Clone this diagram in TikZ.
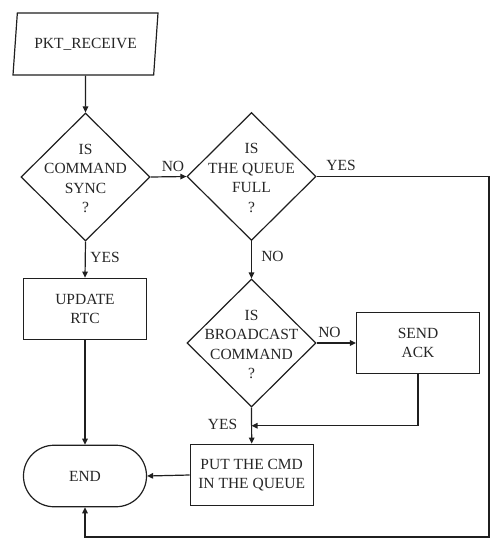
\documentclass[tikz,border=0pt]{standalone}
\usepackage{fontspec}
\setmainfont{Liberation Serif}
\usetikzlibrary{shapes.geometric,arrows.meta}
\begin{document}
\begin{tikzpicture}[x=1pt,y=-1pt,
  every node/.style={font=\fontsize{15.5}{19.5}\selectfont, text=black!85, align=center},
  line/.style={draw=black!88, line width=1.2pt},
  arr/.style={line, -{Triangle[length=6pt,width=5.5pt]}},
  dia/.style={line, shape=diamond, minimum width=129pt, minimum height=128pt, inner sep=0pt},
  boxn/.style={line, rectangle, minimum width=123pt, minimum height=61.5pt, inner sep=0pt},
  para/.style={line, trapezium, trapezium left angle=70.5, trapezium right angle=109.5, trapezium stretches body, minimum width=145pt, minimum height=62pt, inner sep=0pt},
  term/.style={line, rectangle, rounded corners=30.5pt, minimum width=123pt, minimum height=61.5pt, inner sep=0pt},
  lbl/.style={inner sep=0pt, anchor=base}
]
\useasboundingbox (0,0) rectangle (503,550);
\node[para] (p) at (85.5,44) {PKT\_RECEIVE};
\node[dia] (d1) at (85.5,177) {};
\node (t1) at (85.5,178.5) {IS\\COMMAND\\SYNC\\?};
\node[dia] (d2) at (251.5,176.5) {};
\node (t2) at (251.5,178) {IS\\THE QUEUE\\FULL\\?};
\node[dia] (d3) at (251.5,343) {};
\node (t3) at (251.5,344.5) {IS\\BROADCAST\\COMMAND\\?};
\node[boxn] (upd) at (85,309) {UPDATE\\RTC};
\node[boxn] (ack) at (418,343) {SEND\\ACK};
\node[boxn] (put) at (251.7,475) {PUT THE CMD\\IN THE QUEUE};
\node[term] (end) at (85,476) {END};
\coordinate (c1) at (489,176.5);
\coordinate (c2) at (489,537);
\coordinate (j) at (251.5,425.7);

\draw[arr] (p) -- (d1);
\draw[arr] (d1.east) -- (d2.west);
\draw[arr] (d1.south) -- (upd.north);
\draw[arr] (upd.south) -- (end.north);
\draw[arr] (d2.east) -- (c1) -- (c2) -| (end.south);
\draw[arr] (d2.south) -- (d3.north);
\draw[arr] (d3.east) -- (ack.west);
\draw[arr] (ack.south) |- (j);
\draw[arr] (d3.south) -- (put.north);
\draw[arr] (put.west) -- (end.east);

\node[lbl] (l1) at (173,171.5) {NO};
\node[lbl] (l2) at (341,170.7) {YES};
\node[lbl] (l3) at (272.5,261) {NO};
\node[lbl] (l4) at (329.5,337) {NO};
\node[lbl] (l5) at (222.5,429) {YES};
\node[lbl] (l6) at (105,262) {YES};
\end{tikzpicture}
\end{document}
